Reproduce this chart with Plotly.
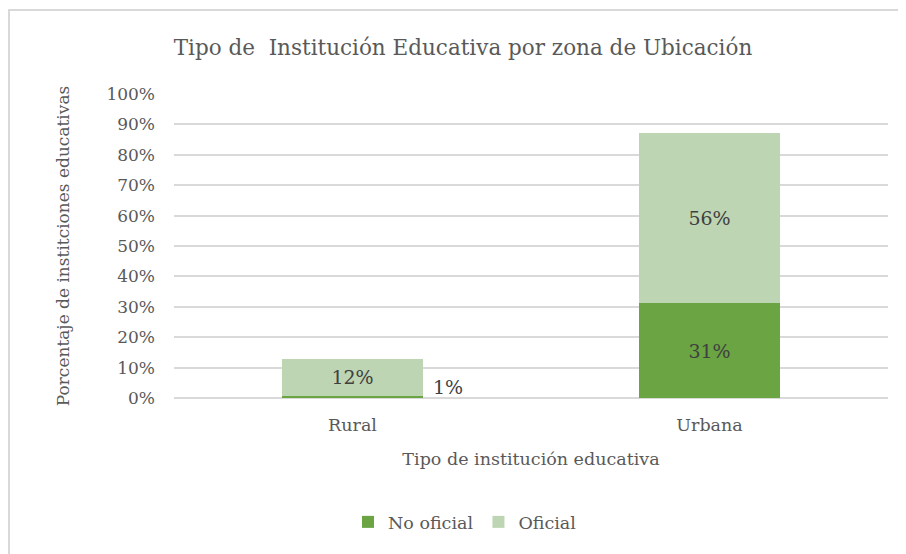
import plotly.graph_objects as go

categories = ["Rural", "Urbana"]
no_oficial = [0.8, 31.25]
oficial = [12.0, 56.0]
no_oficial_labels = ["", "31%"]
oficial_labels = ["12%", "56%"]
rural_small_label = "1%"
y_ticks = [0, 10, 20, 30, 40, 50, 60, 70, 80, 90, 100]
y_tick_text = [f"{v}%" for v in y_ticks]

FONT = "DejaVu Serif"
GRAY = "#595959"
DARK = "#404040"

# page body offset of 8px is compensated here
OFF = 8
W, H = 906, 554
L, R, T, B = 174 - OFF, 18 + OFF, 94 - OFF, 156 + OFF
pw, ph = W - L - R, H - T - B

def px(x):
    return (x - OFF - L) / pw

def py(y):
    return (H - B - (y - OFF)) / ph

fig = go.Figure()
fig.add_trace(go.Bar(
    name="No oficial", x=categories, y=no_oficial,
    marker=dict(color="#6aa443", line=dict(width=0)),
    text=no_oficial_labels, textposition="inside", insidetextanchor="middle",
    textfont=dict(family=FONT, size=19, color=DARK), width=0.395,
    hoverinfo="skip",
))
fig.add_trace(go.Bar(
    name="Oficial", x=categories, y=oficial,
    marker=dict(color="#bed5b3", line=dict(width=0)),
    text=oficial_labels, textposition="inside", insidetextanchor="middle",
    textfont=dict(family=FONT, size=19, color=DARK), width=0.395,
    hoverinfo="skip",
))

fig.add_annotation(
    x=categories[0], y=no_oficial[0], text=rural_small_label, showarrow=False,
    xanchor="left", yanchor="middle", xshift=78, yshift=9,
    font=dict(family=FONT, size=19, color=DARK),
)

fig.update_layout(
    barmode="stack",
    width=W, height=H,
    margin=dict(l=L, r=R, t=T, b=B),
    paper_bgcolor="white", plot_bgcolor="white",
    uniformtext=dict(mode=False),
    title=dict(text="Tipo de  Institución Educativa por zona de Ubicación",
               x=(463 - OFF) / W, xref="container", xanchor="center",
               y=1 - (47 - OFF) / H, yanchor="middle", yref="container",
               font=dict(family=FONT, size=21.5, color=GRAY)),
    font=dict(family=FONT, color=GRAY),
    showlegend=True,
    legend=dict(orientation="h", x=px(465), xanchor="center", y=py(522), yanchor="middle",
                font=dict(family=FONT, size=17.5, color=GRAY), itemwidth=30,
                traceorder="normal"),
    xaxis=dict(
        showgrid=False, showline=False, ticks="", ticklabelstandoff=14,
        tickfont=dict(family=FONT, size=17.5, color=GRAY),
        title=dict(text="Tipo de institución educativa", standoff=19,
                   font=dict(family=FONT, size=17.5, color=GRAY)),
    ),
    yaxis=dict(
        range=[0, 100], tickvals=y_ticks, ticktext=y_tick_text,
        showgrid=True, gridcolor="#d9d9d9", gridwidth=1.5,
        zeroline=True, zerolinecolor="#d9d9d9", zerolinewidth=1.5,
        showline=False, ticks="", ticklabelstandoff=18,
        tickfont=dict(family=FONT, size=17, color=GRAY),
        title=dict(text="Porcentaje de institciones educativas", standoff=32,
                   font=dict(family=FONT, size=17, color=GRAY)),
    ),
)

fig.add_shape(type="rect", xref="paper", yref="paper",
              x0=px(9), x1=px(930), y0=py(600), y1=py(10),
              line=dict(color="#d9d9d9", width=2), fillcolor="rgba(0,0,0,0)", layer="below")

fig.write_html("out.html")
